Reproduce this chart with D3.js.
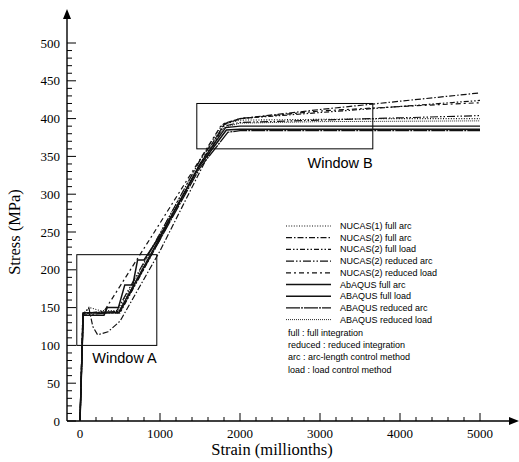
<!DOCTYPE html>
<html>
<head>
<meta charset="utf-8">
<script src="https://cdn.jsdelivr.net/npm/d3@7"></script>
<style>
  body { margin: 0; background: #fff; }
  .tick-label { font-family: "Liberation Serif", "Times New Roman", serif; font-size: 13px; }
  .axis-title { font-family: "Liberation Serif", "Times New Roman", serif; font-size: 16.5px; }
  .legend-text { font-family: "Liberation Sans", Arial, sans-serif; font-size: 9px; }
  .window-text { font-family: "Liberation Sans", Arial, sans-serif; font-size: 14.5px; }
</style>
</head>
<body>
<div id="chart"></div>
<script>
// strain (millionths), stress (MPa)
const nucas1FullArc = [[0,0],[40,142],[120,150],[250,146],[480,146],[1000,248],[1500,345],[1780,392],[2000,398],[3000,399],[4000,400],[5000,400]];
const nucas2FullArc = [[0,0],[40,140],[110,150],[160,125],[220,114],[350,118],[500,132],[1000,225],[1500,330],[1800,392],[2000,400],[3000,412],[4000,423],[5000,434]];
const nucas2FullLoad = [[0,0],[40,143],[500,143],[1000,240],[1500,340],[1810,394],[2000,400],[3000,408],[4000,416],[5000,424]];
const nucas2ReducedArc = [[0,0],[35,140],[450,144],[1000,248],[1500,345],[1800,390],[2000,395],[3000,398],[4000,401],[5000,404]];
const nucas2ReducedLoad = [[0,0],[35,142],[300,145],[900,245],[1500,346],[1770,392],[2000,400],[3000,410],[4000,416],[5000,421]];
const abaqusFullArc = [[0,0],[40,143],[480,143],[1000,243],[1500,340],[1820,388],[2000,390],[3000,390],[5000,390]];
const abaqusFullLoad = [[0,0],[40,140],[300,140],[340,150],[480,150],[560,180],[660,180],[720,213],[800,213],[1000,245],[1500,338],[1830,385],[2000,386],[5000,386]];
const abaqusReducedArc = [[0,0],[40,143],[500,145],[1000,240],[1500,335],[1850,382],[2000,384],[5000,384]];
const abaqusReducedLoad = [[0,0],[40,143],[500,143],[1000,242],[1500,340],[1800,388],[2000,394],[3000,396],[5000,397]];

const seriesNames = ["NUCAS(1) full arc", "NUCAS(2) full arc", "NUCAS(2) full load", "NUCAS(2) reduced arc",
  "NUCAS(2) reduced load", "AbAQUS full arc", "ABAQUS full load", "ABAQUS reduced arc", "ABAQUS reduced load"];
const seriesData = [nucas1FullArc, nucas2FullArc, nucas2FullLoad, nucas2ReducedArc, nucas2ReducedLoad,
  abaqusFullArc, abaqusFullLoad, abaqusReducedArc, abaqusReducedLoad];
const notes = ["full : full integration", "reduced : reduced integration",
  "arc : arc-length control method", "load : load control method"];

const xTicks = [0, 1000, 2000, 3000, 4000, 5000];
const yTicks = [0, 50, 100, 150, 200, 250, 300, 350, 400, 450, 500];
const windowA = { x0: -40, x1: 960, y0: 100, y1: 220 };
const windowB = { x0: 1460, x1: 3660, y0: 360, y1: 420 };

const styles = [
  { dash: "1,1.6", w: 1.1 },
  { dash: "6,2,1.5,2", w: 1.2 },
  { dash: "5,2,1.5,2,1.5,2", w: 1.2 },
  { dash: "8,2,1.5,2,1.5,2", w: 1.2 },
  { dash: "5,3,2,3", w: 1.2 },
  { dash: null, w: 1.4 },
  { dash: null, w: 1.5 },
  { dash: "14,1,2,1", w: 1.3 },
  { dash: "1,1", w: 0.9 }
];

const width = 519, height = 462;
const svg = d3.select("#chart").append("svg")
  .attr("width", width).attr("height", height);

const x = d3.scaleLinear().domain([0, 5000]).range([80, 480]);
const y = d3.scaleLinear().domain([0, 500]).range([421, 43]);
const axisX = 67;

// axes lines with arrows
svg.append("line").attr("x1", axisX).attr("x2", 511).attr("y1", y(0)).attr("y2", y(0))
  .attr("stroke", "#000").attr("stroke-width", 1.4);
svg.append("path").attr("d", `M519,${y(0)} L509,${y(0) - 4} L509,${y(0) + 4} Z`).attr("fill", "#000");
svg.append("line").attr("x1", axisX).attr("x2", axisX).attr("y1", y(0)).attr("y2", 17)
  .attr("stroke", "#000").attr("stroke-width", 1.4);
svg.append("path").attr("d", `M${axisX},9 L${axisX - 4},19 L${axisX + 4},19 Z`).attr("fill", "#000");

// x ticks (inward)
d3.range(0, 5001, 200).forEach(v => {
  const major = v % 1000 === 0;
  svg.append("line").attr("x1", x(v)).attr("x2", x(v))
    .attr("y1", y(0)).attr("y2", y(0) - (major ? 8 : 4))
    .attr("stroke", "#000").attr("stroke-width", 1);
});
xTicks.forEach(v => {
  svg.append("text").attr("class", "tick-label").attr("x", x(v)).attr("y", y(0) + 17)
    .attr("text-anchor", "middle").text(v);
});

// y ticks (inward)
d3.range(0, 501, 10).forEach(v => {
  const major = v % 50 === 0;
  svg.append("line").attr("x1", axisX).attr("x2", axisX + (major ? 9 : 5))
    .attr("y1", y(v)).attr("y2", y(v))
    .attr("stroke", "#000").attr("stroke-width", 1);
});
yTicks.forEach(v => {
  svg.append("text").attr("class", "tick-label").attr("x", 60).attr("y", y(v) + 4.5)
    .attr("text-anchor", "end").text(v);
});

svg.append("text").attr("class", "axis-title").attr("x", 272).attr("y", 455)
  .attr("text-anchor", "middle").text("Strain (millionths)");
svg.append("text").attr("class", "axis-title")
  .attr("transform", "translate(20,232) rotate(-90)")
  .attr("text-anchor", "middle").text("Stress (MPa)");

// windows
[windowA, windowB].forEach(w => {
  svg.append("rect").attr("x", x(w.x0)).attr("y", y(w.y1))
    .attr("width", x(w.x1) - x(w.x0)).attr("height", y(w.y0) - y(w.y1))
    .attr("fill", "none").attr("stroke", "#000").attr("stroke-width", 1);
});
svg.append("text").attr("class", "window-text").attr("x", x(windowA.x1)).attr("y", y(windowA.y0) + 18)
  .attr("text-anchor", "end").text("Window A");
svg.append("text").attr("class", "window-text").attr("x", x(windowB.x1)).attr("y", y(windowB.y0) + 19)
  .attr("text-anchor", "end").text("Window B");

// curves
const line = d3.line().x(d => x(d[0])).y(d => y(d[1]));
seriesData.forEach((data, i) => {
  svg.append("path").datum(data).attr("d", line)
    .attr("fill", "none").attr("stroke", "#111")
    .attr("stroke-width", styles[i].w)
    .attr("stroke-dasharray", styles[i].dash);
});

// legend
const legend = svg.append("g");
seriesNames.forEach((name, i) => {
  const ly = 226 + i * 11.7;
  legend.append("line").attr("x1", 286).attr("x2", 331).attr("y1", ly).attr("y2", ly)
    .attr("stroke", "#111").attr("stroke-width", styles[i].w)
    .attr("stroke-dasharray", styles[i].dash);
  legend.append("text").attr("class", "legend-text").attr("x", 340).attr("y", ly + 3).text(name);
});
notes.forEach((t, i) => {
  legend.append("text").attr("class", "legend-text").attr("x", 288).attr("y", 336 + i * 12.2).text(t);
});
</script>
</body>
</html>
